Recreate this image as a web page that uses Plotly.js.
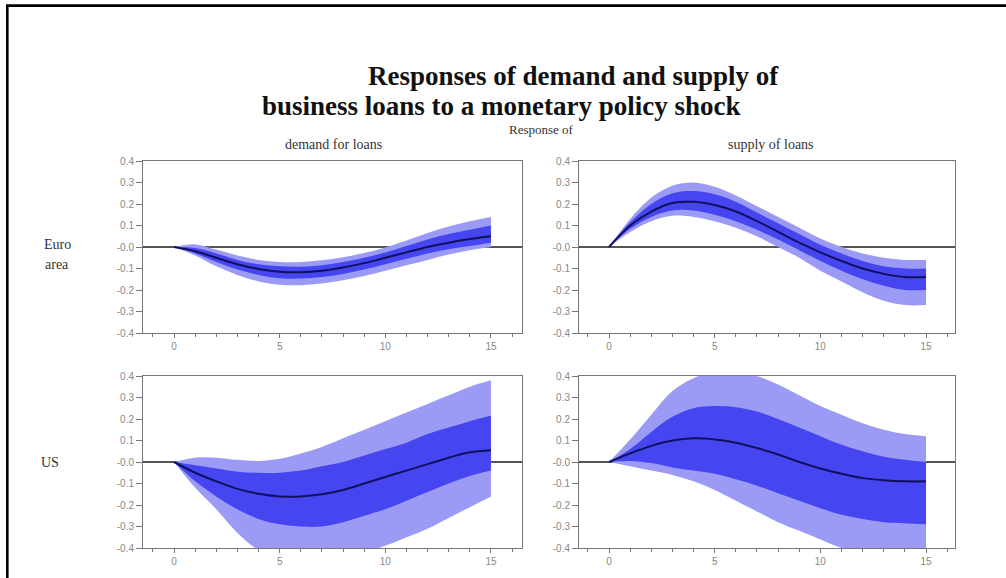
<!DOCTYPE html>
<html>
<head>
<meta charset="utf-8">
<script src="https://cdn.plot.ly/plotly-3.0.1.min.js"></script>
<style>html,body{margin:0;padding:0;background:#fff;}#chart{width:1006px;height:578px;}</style>
</head>
<body>
<div id="chart"></div>
<script>
// Horizon (periods after the shock)
const periods = [0,1,2,3,4,5,6,7,8,9,10,11,12,13,14,15];

// Euro area - demand for loans
const euDemandMedian = [0,-0.02,-0.05,-0.08,-0.102,-0.115,-0.117,-0.11,-0.095,-0.075,-0.05,-0.025,0.0,0.02,0.037,0.05];
const euDemandOuterUp = [0,0.012,-0.012,-0.04,-0.06,-0.07,-0.07,-0.062,-0.048,-0.028,-0.002,0.03,0.065,0.095,0.12,0.14];
const euDemandOuterLo = [0,-0.04,-0.09,-0.13,-0.16,-0.175,-0.178,-0.17,-0.155,-0.135,-0.11,-0.085,-0.06,-0.035,-0.015,0.0];
const euDemandInnerUp = [0,-0.005,-0.03,-0.06,-0.08,-0.09,-0.092,-0.085,-0.07,-0.05,-0.025,0.005,0.035,0.06,0.08,0.1];
const euDemandInnerLo = [0,-0.03,-0.07,-0.105,-0.13,-0.145,-0.147,-0.14,-0.125,-0.105,-0.08,-0.055,-0.03,-0.01,0.005,0.02];

// Euro area - supply of loans
const euSupplyMedian = [0,0.1,0.165,0.205,0.21,0.195,0.165,0.12,0.07,0.02,-0.025,-0.065,-0.1,-0.125,-0.14,-0.14];
const euSupplyOuterUp = [0,0.13,0.23,0.285,0.3,0.28,0.24,0.19,0.14,0.09,0.04,0.0,-0.03,-0.05,-0.06,-0.06];
const euSupplyOuterLo = [0,0.07,0.12,0.145,0.14,0.12,0.09,0.05,0.0,-0.05,-0.11,-0.16,-0.21,-0.25,-0.27,-0.27];
const euSupplyInnerUp = [0,0.115,0.2,0.25,0.26,0.245,0.21,0.16,0.11,0.06,0.01,-0.03,-0.065,-0.09,-0.1,-0.1];
const euSupplyInnerLo = [0,0.085,0.14,0.17,0.17,0.15,0.12,0.08,0.035,-0.015,-0.065,-0.11,-0.15,-0.18,-0.2,-0.2];

// US - demand for loans
const usDemandMedian = [0,-0.05,-0.09,-0.125,-0.148,-0.16,-0.16,-0.15,-0.13,-0.1,-0.07,-0.04,-0.01,0.02,0.045,0.055];
const usDemandOuterUp = [0,0.02,0.02,0.01,0.005,0.015,0.04,0.07,0.11,0.15,0.19,0.23,0.27,0.31,0.35,0.38];
const usDemandOuterLo = [0,-0.12,-0.22,-0.33,-0.41,-0.45,-0.46,-0.455,-0.44,-0.42,-0.39,-0.35,-0.31,-0.26,-0.21,-0.16];
const usDemandInnerUp = [0,-0.015,-0.03,-0.045,-0.05,-0.05,-0.04,-0.02,0.0,0.03,0.06,0.09,0.13,0.16,0.19,0.215];
const usDemandInnerLo = [0,-0.09,-0.16,-0.22,-0.265,-0.29,-0.3,-0.3,-0.28,-0.25,-0.22,-0.18,-0.14,-0.1,-0.065,-0.04];

// US - supply of loans
const usSupplyMedian = [0,0.04,0.075,0.1,0.11,0.105,0.09,0.065,0.035,0.0,-0.03,-0.055,-0.075,-0.085,-0.09,-0.09];
const usSupplyOuterUp = [0,0.105,0.22,0.33,0.39,0.42,0.42,0.4,0.36,0.31,0.26,0.22,0.18,0.15,0.13,0.12];
const usSupplyOuterLo = [0,-0.02,-0.04,-0.06,-0.09,-0.13,-0.18,-0.23,-0.28,-0.32,-0.36,-0.4,-0.43,-0.45,-0.46,-0.46];
const usSupplyInnerUp = [0,0.06,0.14,0.21,0.25,0.26,0.255,0.235,0.2,0.16,0.12,0.08,0.05,0.025,0.01,0.0];
const usSupplyInnerLo = [0,0.005,-0.005,-0.025,-0.04,-0.055,-0.08,-0.11,-0.145,-0.18,-0.215,-0.245,-0.265,-0.28,-0.285,-0.29];

// Tick labels
const yTickVals = [0.4,0.3,0.2,0.1,0,-0.1,-0.2,-0.3,-0.4];
const yTickText = ["0.4","0.3","0.2","0.1","-0.0","-0.1","-0.2","-0.3","-0.4"];
const xTickVals = [0,5,10,15];
const xTickText = ["0","5","10","15"];

const panels = [
  {ax:"", med:euDemandMedian, ou:euDemandOuterUp, ol:euDemandOuterLo, iu:euDemandInnerUp, il:euDemandInnerLo},
  {ax:"2", med:euSupplyMedian, ou:euSupplyOuterUp, ol:euSupplyOuterLo, iu:euSupplyInnerUp, il:euSupplyInnerLo},
  {ax:"3", med:usDemandMedian, ou:usDemandOuterUp, ol:usDemandOuterLo, iu:usDemandInnerUp, il:usDemandInnerLo},
  {ax:"4", med:usSupplyMedian, ou:usSupplyOuterUp, ol:usSupplyOuterLo, iu:usSupplyInnerUp, il:usSupplyInnerLo}
];

const lightBand = "rgb(155,155,245)";
const darkBand = "rgb(70,70,240)";
const traces = [];
panels.forEach(p => {
  const xa = "x" + p.ax, ya = "y" + p.ax;
  const base = {x: periods, xaxis: xa, yaxis: ya, mode: "lines", hoverinfo: "skip", showlegend: false};
  traces.push(Object.assign({}, base, {y: p.ou, line: {width: 0, shape: "spline", color: lightBand}}));
  traces.push(Object.assign({}, base, {y: p.ol, line: {width: 0, shape: "spline", color: lightBand}, fill: "tonexty", fillcolor: lightBand}));
  traces.push(Object.assign({}, base, {y: p.iu, line: {width: 0, shape: "spline", color: darkBand}}));
  traces.push(Object.assign({}, base, {y: p.il, line: {width: 0, shape: "spline", color: darkBand}, fill: "tonexty", fillcolor: darkBand}));
  traces.push(Object.assign({}, base, {y: p.med, line: {width: 2, shape: "spline", color: "#10105e"}}));
});

const W = 1006, H = 578;
const px = v => v / W;
const py = v => 1 - v / H;

function xAxis(domain, range, anchor) {
  return {
    domain: domain, range: range, anchor: anchor,
    tickvals: xTickVals, ticktext: xTickText, ticks: "outside", ticklen: 4, tickcolor: "#777",
    minor: {dtick: 1, ticks: "outside", ticklen: 3, tickcolor: "#777", showgrid: false},
    showline: true, linecolor: "#777", linewidth: 1, mirror: true,
    showgrid: false, zeroline: false, fixedrange: true,
    tickfont: {family: "Liberation Sans", size: 10, color: "#888"}
  };
}
function yAxis(domain, anchor) {
  return {
    domain: domain, range: [-0.4, 0.4], anchor: anchor,
    tickvals: yTickVals, ticktext: yTickText, ticks: "outside", ticklen: 6, tickcolor: "#777",
    showline: true, linecolor: "#777", linewidth: 1, mirror: true,
    showgrid: false, zeroline: true, zerolinecolor: "#555", zerolinewidth: 1.3, fixedrange: true,
    tickfont: {family: "Liberation Sans", size: 10, color: "#888"}
  };
}

const leftDom = [px(143), px(522)];
const rightDom = [px(579), px(955)];
const topDom = [py(333), py(161)];
const botDom = [py(548), py(376)];
const leftRange = [-1.47, 16.47];
const rightRange = [-1.42, 16.37];

const serif = "Liberation Serif, Times New Roman, serif";
function label(text, x, y, size, bold, color) {
  return {text: bold ? "<b>" + text + "</b>" : text, x: px(x), y: py(y), xref: "paper", yref: "paper",
    showarrow: false, xanchor: "center", yanchor: "middle",
    font: {family: serif, size: size, color: color || "#333"}};
}

const layout = {
  width: W, height: H,
  margin: {l: 0, r: 0, t: 0, b: 0},
  paper_bgcolor: "#fff", plot_bgcolor: "#fff",
  showlegend: false,
  xaxis: xAxis(leftDom, leftRange, "y"),
  yaxis: yAxis(topDom, "x"),
  xaxis2: xAxis(rightDom, rightRange, "y2"),
  yaxis2: yAxis(topDom, "x2"),
  xaxis3: xAxis(leftDom, leftRange, "y3"),
  yaxis3: yAxis(botDom, "x3"),
  xaxis4: xAxis(rightDom, rightRange, "y4"),
  yaxis4: yAxis(botDom, "x4"),
  annotations: [
    label("Responses of demand and supply of", 573, 76, 27, true, "#111"),
    label("business loans to a monetary policy shock", 501, 106, 27, true, "#111"),
    label("Response of", 541, 129, 13, false),
    label("demand for loans", 333, 145, 14, false),
    label("supply of loans", 771, 145, 14, false),
    label("Euro", 57, 244, 14, false),
    label("area", 57, 264, 14, false),
    label("US", 50, 463, 14, false)
  ],
  shapes: [
    {type: "line", xref: "paper", yref: "paper", x0: px(7.3), x1: px(7.3), y0: 0, y1: py(5.6), line: {color: "#000", width: 2.6}},
    {type: "line", xref: "paper", yref: "paper", x0: px(6), x1: 1, y0: py(5.6), y1: py(5.6), line: {color: "#000", width: 2.6}}
  ]
};

Plotly.newPlot("chart", traces, layout, {displayModeBar: false, staticPlot: true});
</script>
</body>
</html>
